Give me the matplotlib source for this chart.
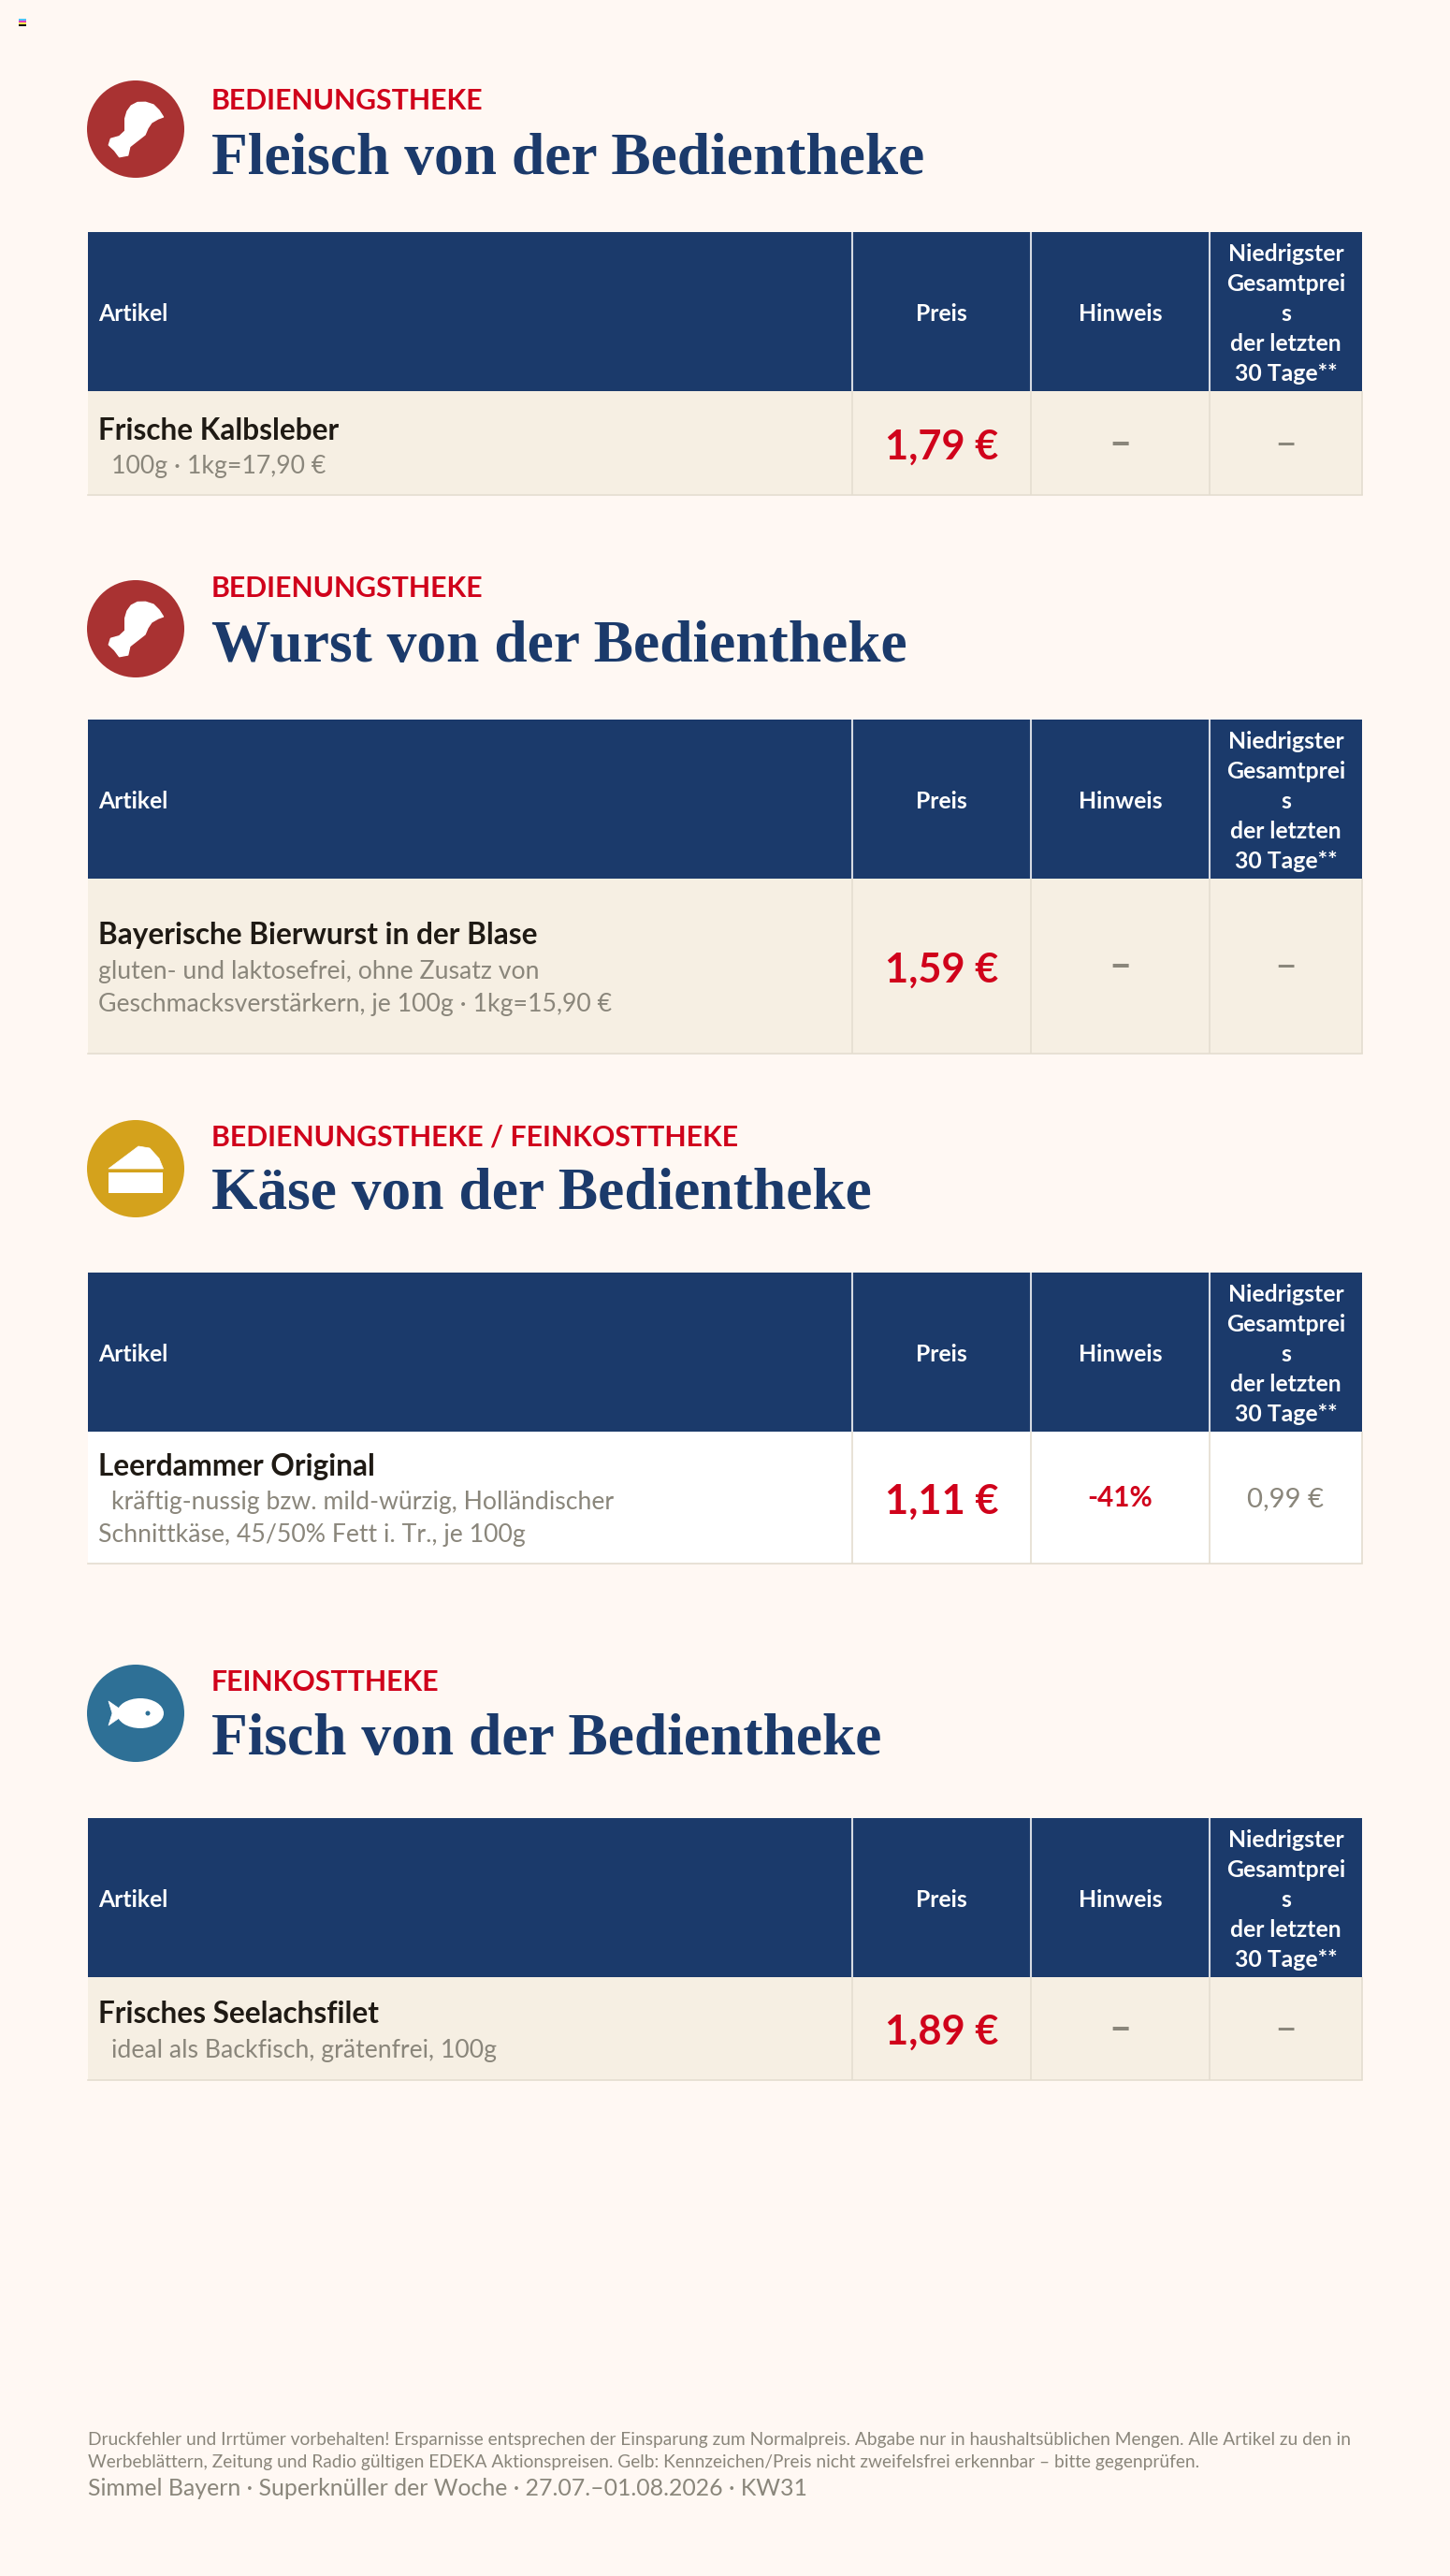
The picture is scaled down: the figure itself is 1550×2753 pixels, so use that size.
import matplotlib
matplotlib.use("Agg")
import matplotlib.pyplot as plt
from matplotlib.font_manager import FontProperties
from matplotlib.patches import Circle, Ellipse, Polygon, Rectangle
from matplotlib.textpath import TextPath

# --- content ---
kickers = ["BEDIENUNGSTHEKE", "BEDIENUNGSTHEKE", "BEDIENUNGSTHEKE / FEINKOSTTHEKE", "FEINKOSTTHEKE"]
titles = ["Fleisch von der Bedientheke", "Wurst von der Bedientheke",
          "Käse von der Bedientheke", "Fisch von der Bedientheke"]
header_labels = ["Artikel", "Preis", "Hinweis"]
lowest_label = ["Niedrigster", "Gesamtprei", "s", "der letzten", "30 Tage**"]
names = ["Frische Kalbsleber", "Bayerische Bierwurst in der Blase",
         "Leerdammer Original", "Frisches Seelachsfilet"]
details = [["100g · 1kg=17,90 €"],
           ["gluten- und laktosefrei, ohne Zusatz von",
            "Geschmacksverstärkern, je 100g · 1kg=15,90 €"],
           ["kräftig-nussig bzw. mild-würzig, Holländischer",
            "Schnittkäse, 45/50% Fett i. Tr., je 100g"],
           ["ideal als Backfisch, grätenfrei, 100g"]]
prices = ["1,79 €", "1,59 €", "1,11 €", "1,89 €"]
hints = ["–", "–", "-41%", "–"]
lowest = ["–", "–", "0,99 €", "–"]
footer = ["Druckfehler und Irrtümer vorbehalten! Ersparnisse entsprechen der Einsparung zum "
          "Normalpreis. Abgabe nur in haushaltsüblichen Mengen. Alle Artikel zu den in",
          "Werbeblättern, Zeitung und Radio gültigen EDEKA Aktionspreisen. Gelb: "
          "Kennzeichen/Preis nicht zweifelsfrei erkennbar – bitte gegenprüfen."]
footer_line = "Simmel Bayern · Superknüller der Woche · 27.07.–01.08.2026 · KW31"

# --- layout, pixels from top left ---
W, H = 1550, 2753
col_x = [94, 911, 1102, 1293, 1456]
header_top = [248, 769, 1360, 1943]
header_h = 170
row_bottom = [529, 1126, 1671, 2223]
kicker_y = [117, 638, 1225, 1807]
title_y = [186, 707, 1292, 1875]
icon_y = [138, 672, 1249, 1831]
name_y = [470, 1009, 1577, 2162]
detail_y = [[506], [1046, 1081], [1613, 1648], [2199]]
detail_x = [[119], [105, 105], [119, 105], [119]]
row_color = ["#F6EFE3", "#F6EFE3", "#FFFFFF", "#F6EFE3"]

BG = "#FFF8F3"
NAVY = "#1B3A6B"
RED = "#D0021B"
GREY = "#8A867B"
SANS = "Lato"
SERIF = "Liberation Serif"


def fit_size(sample, width, family, weight="normal"):
    # font size in points that makes sample about width pixels wide at dpi 100
    prop = FontProperties(family=family, weight=weight)
    w = TextPath((0, 0), sample, size=10, prop=prop).get_extents().width
    return 10 * width / w * 72 / 100


kicker_fs = fit_size("BEDIENUNGSTHEKE", 288, SANS, "bold")
title_fs = fit_size("Fleisch von der Bedientheke", 760, SERIF, "bold")
header_fs = fit_size("Niedrigster", 122, SANS, "bold")
name_fs = fit_size("Leerdammer Original", 292, SANS, "bold")
detail_fs = fit_size("Schnittkäse, 45/50% Fett i. Tr., je 100g", 454, SANS)
price_fs = fit_size("1,79 €", 118, SANS, "bold")
hint_fs = fit_size("-41%", 67, SANS, "bold")
lowest_fs = fit_size("0,99 €", 81, SANS)
dash_fs = fit_size("–", 17, SANS, "bold")
foot_fs = fit_size(footer[0], 1347, SANS)
foot2_fs = fit_size(footer_line, 768, SANS)

fig = plt.figure(figsize=(W / 100, H / 100), dpi=100, facecolor=BG)
ax = fig.add_axes([0, 0, 1, 1])
ax.set_xlim(0, W)
ax.set_ylim(H, 0)
ax.axis("off")


def txt(x, y, s, fs, color, weight="normal", ha="left", family=SANS):
    ax.text(x, y, s, fontsize=fs, color=color, fontweight=weight, ha=ha, va="baseline", family=family)


def drumstick(cy, cx=145):
    pts = [(10.6, -28.7), (19, -26), (25, -20), (29.5, -13), (24, -11), (17, -7), (13, -1),
           (10, 6), (-6.2, 18.7), (-8.3, 28), (-17.4, 29.7), (-22.6, 22.7), (-28.7, 17),
           (-26.6, 10.3), (-17.4, 7.7), (-11.3, 2), (-11.3, -11.3), (-9, -19), (-4.7, -25), (2, -28.5)]
    ax.add_patch(Circle((cx, cy), 52, fc="#A93232", ec="none"))
    ax.add_patch(Polygon([(cx + a, cy + b) for a, b in pts], fc="white", ec="white", lw=1, joinstyle="round"))


def cheese(cy, cx=145):
    ax.add_patch(Circle((cx, cy), 52, fc="#D4A21C", ec="none"))
    top = [(-29, 0), (3, -24), (15, -22), (25, -11), (29.5, 0)]
    ax.add_patch(Polygon([(cx + a, cy + b) for a, b in top], fc="white", ec="white", lw=0.5, joinstyle="round"))
    ax.add_patch(Rectangle((cx - 29, cy + 4), 58, 22, fc="white", ec="none"))


def fish(cy, cx=145):
    ax.add_patch(Circle((cx, cy), 52, fc="#2E7096", ec="none"))
    tail = [(-29, -13), (-16, -4), (-16, 4), (-29, 13), (-25, 0)]
    ax.add_patch(Polygon([(cx + a, cy + b) for a, b in tail], fc="white", ec="white", lw=0.5, joinstyle="round"))
    ax.add_patch(Ellipse((cx + 5, cy), 50, 32, fc="white", ec="none"))
    ax.add_patch(Circle((cx + 13, cy), 2.5, fc="#2E7096", ec="none"))


icons = [drumstick, drumstick, cheese, fish]

for i in range(4):
    icons[i](icon_y[i])
    txt(226, kicker_y[i], kickers[i], kicker_fs, RED, "bold")
    txt(226, title_y[i], titles[i], title_fs, NAVY, "bold", family=SERIF)

    top = header_top[i]
    bottom = top + header_h
    # header band
    ax.add_patch(Rectangle((col_x[0], top), col_x[-1] - col_x[0], header_h, fc=NAVY, ec="none"))
    for x in col_x[1:4]:
        ax.plot([x, x], [top, bottom], color="#D5DAE2", lw=1.5, solid_capstyle="butt")
    txt(105, top + 95, header_labels[0], header_fs, "white", "bold")
    for j in (1, 2):
        txt((col_x[j] + col_x[j + 1]) / 2, top + 95, header_labels[j], header_fs, "white", "bold", ha="center")
    low_cx = (col_x[3] + col_x[4]) / 2
    for line, off in zip(lowest_label, [31, 63, 95, 127, 159]):
        txt(low_cx, top + off, line, header_fs, "white", "bold", ha="center")

    # body row
    rb = row_bottom[i]
    ax.add_patch(Rectangle((col_x[0], bottom), col_x[-1] - col_x[0], rb - bottom, fc=row_color[i], ec="none"))
    ax.plot([col_x[0], col_x[-1]], [rb, rb], color="#E4DDD0", lw=1.2)
    for x in col_x[1:]:
        ax.plot([x, x], [bottom, rb], color="#E4DDD0", lw=1.2, solid_capstyle="butt")
    txt(105, name_y[i], names[i], name_fs, "#1F1A14", "bold")
    for line, lx, ly in zip(details[i], detail_x[i], detail_y[i]):
        txt(lx, ly, line, detail_fs, GREY)

    mid = (bottom + rb) / 2
    txt((col_x[1] + col_x[2]) / 2, mid + 17, prices[i], price_fs, RED, "bold", ha="center")
    hint_cx = (col_x[2] + col_x[3]) / 2
    if hints[i] == "–":
        txt(hint_cx, mid + 13, hints[i], dash_fs, GREY, "bold", ha="center")
    else:
        txt(hint_cx, mid + 9, hints[i], hint_fs, RED, "bold", ha="center")
    if lowest[i] == "–":
        txt(low_cx, mid + 13, lowest[i], dash_fs, GREY, ha="center")
    else:
        txt(low_cx, mid + 10, lowest[i], lowest_fs, GREY, ha="center")

# footer
txt(94, 2613, footer[0], foot_fs, GREY)
txt(94, 2637, footer[1], foot_fs, GREY)
txt(94, 2667, footer_line, foot2_fs, GREY)

# printer's colour mark, top left
for k, c in enumerate(["#4FC3F7", "#E040C0", "#FFE94A", "#111111"]):
    ax.add_patch(Rectangle((20, 20 + k * 2), 8, 2, fc=c, ec="none"))

fig.savefig("out.png", dpi=100, facecolor=BG)
